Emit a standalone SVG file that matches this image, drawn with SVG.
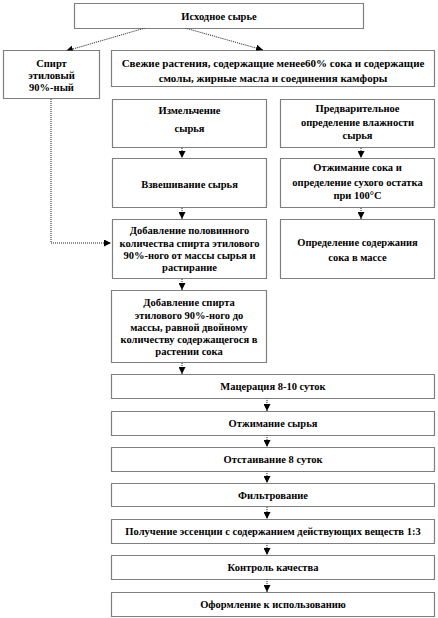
<svg xmlns="http://www.w3.org/2000/svg" width="438" height="618" viewBox="0 0 438 618">
<defs>
<style>
.box{fill:#fff;stroke:#000;stroke-width:1.2;stroke-dasharray:1 1}
.t{font-family:"Liberation Serif","Times New Roman",serif;font-weight:bold;font-size:10.5px;text-anchor:middle;fill:#000}
.c{fill:none;stroke:#000;stroke-width:0.9;stroke-dasharray:1 1}
</style>
<marker id="ah" viewBox="0 0 10 10" refX="10" refY="5" markerWidth="7" markerHeight="7" markerUnits="userSpaceOnUse" orient="auto">
<path d="M0,0 L10,5 L0,10 z" fill="#000"/>
</marker>
</defs>
<rect width="438" height="618" fill="#fff"/>
<g id="connectors">
<line class="c" x1="145" y1="28" x2="66" y2="51" marker-end="url(#ah)"/>
<line class="c" x1="185" y1="28" x2="263" y2="50" marker-end="url(#ah)"/>
<polyline class="c" points="51,99 51,243 111,243" marker-end="url(#ah)"/>
<line class="c" x1="182" y1="148" x2="182" y2="158" marker-end="url(#ah)"/>
<line class="c" x1="182" y1="208" x2="182" y2="219" marker-end="url(#ah)"/>
<line class="c" x1="182" y1="279" x2="182" y2="290" marker-end="url(#ah)"/>
<line class="c" x1="182" y1="363" x2="182" y2="374" marker-end="url(#ah)"/>
<line class="c" x1="361" y1="148" x2="361" y2="158" marker-end="url(#ah)"/>
<line class="c" x1="361" y1="208" x2="361" y2="219" marker-end="url(#ah)"/>
<line class="c" x1="267" y1="398" x2="267" y2="411" marker-end="url(#ah)"/>
<line class="c" x1="267" y1="435" x2="267" y2="447" marker-end="url(#ah)"/>
<line class="c" x1="267" y1="471" x2="267" y2="483" marker-end="url(#ah)"/>
<line class="c" x1="267" y1="507" x2="267" y2="519" marker-end="url(#ah)"/>
<line class="c" x1="267" y1="543" x2="267" y2="555" marker-end="url(#ah)"/>
<line class="c" x1="267" y1="579" x2="267" y2="592" marker-end="url(#ah)"/>
</g>
<g id="n1"><rect class="box" x="74.5" y="3.5" width="289" height="25"/><text class="t" x="219" y="19.5">Исходное сырье</text></g>
<g id="n2"><rect class="box" x="3.5" y="50.5" width="96" height="48"/><text class="t" x="51.5" y="66.5">Спирт</text><text class="t" x="51.5" y="78.5">этиловый</text><text class="t" x="51.5" y="90.5">90%-ный</text></g>
<g id="n3"><rect class="box" x="111.5" y="50.5" width="323" height="36"/><text class="t" x="273" y="66.5" style="font-size:11px">Свежие растения, содержащие менее60% сока и содержащие</text><text class="t" x="273" y="81.5" style="font-size:11px">смолы, жирные масла и соединения камфоры</text></g>
<g id="n4"><rect class="box" x="112.5" y="99.5" width="154" height="48"/><text class="t" x="189.5" y="114">Измельчение</text><text class="t" x="189.5" y="132">сырья</text></g>
<g id="n5"><rect class="box" x="280.5" y="99.5" width="154" height="48"/><text class="t" x="357.5" y="112">Предварительное</text><text class="t" x="357.5" y="125.5">определение влажности</text><text class="t" x="357.5" y="139">сырья</text></g>
<g id="n6"><rect class="box" x="112.5" y="158.5" width="154" height="49"/><text class="t" x="189.5" y="187.5">Взвешивание сырья</text></g>
<g id="n7"><rect class="box" x="280.5" y="158.5" width="154" height="49"/><text class="t" x="357.5" y="171">Отжимание сока и</text><text class="t" x="357.5" y="186">определение сухого остатка</text><text class="t" x="357.5" y="199">при 100°С</text></g>
<g id="n8"><rect class="box" x="112.5" y="219.5" width="154" height="59"/><text class="t" x="189.5" y="234">Добавление половинного</text><text class="t" x="189.5" y="247">количества спирта этилового</text><text class="t" x="189.5" y="259">90%-ного от массы сырья и</text><text class="t" x="189.5" y="271">растирание</text></g>
<g id="n9"><rect class="box" x="280.5" y="219.5" width="154" height="59"/><text class="t" x="357.5" y="246">Определение содержания</text><text class="t" x="357.5" y="261">сока в массе</text></g>
<g id="n10"><rect class="box" x="111.5" y="290.5" width="155" height="72"/><text class="t" x="189" y="306">Добавление спирта</text><text class="t" x="189" y="319">этилового 90%-ного до</text><text class="t" x="189" y="331">массы, равной двойному</text><text class="t" x="189" y="343">количеству содержащегося в</text><text class="t" x="189" y="355">растении сока</text></g>
<g id="n11"><rect class="box" x="111.5" y="374.5" width="323" height="24"/><text class="t" x="273" y="390">Мацерация 8-10 суток</text></g>
<g id="n12"><rect class="box" x="111.5" y="411.5" width="323" height="24"/><text class="t" x="273" y="427">Отжимание сырья</text></g>
<g id="n13"><rect class="box" x="111.5" y="447.5" width="323" height="24"/><text class="t" x="273" y="463">Отстаивание 8 суток</text></g>
<g id="n14"><rect class="box" x="111.5" y="483.5" width="323" height="23"/><text class="t" x="273" y="499">Фильтрование</text></g>
<g id="n15"><rect class="box" x="111.5" y="519.5" width="323" height="24"/><text class="t" x="273" y="535">Получение эссенции с содержанием действующих веществ 1:3</text></g>
<g id="n16"><rect class="box" x="111.5" y="555.5" width="323" height="24"/><text class="t" x="273" y="571">Контроль качества</text></g>
<g id="n17"><rect class="box" x="111.5" y="592.5" width="323" height="24"/><text class="t" x="273" y="608">Оформление к использованию</text></g>
</svg>
